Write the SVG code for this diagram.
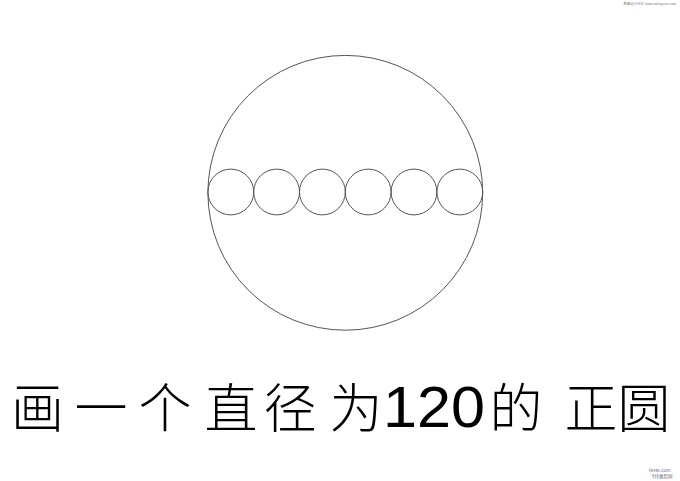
<svg xmlns="http://www.w3.org/2000/svg" width="680" height="481" viewBox="0 0 680 481">
  <style>
    .c { fill: none; stroke: #555; stroke-width: 1; }
    .cjk { font-family: "Noto Sans CJK SC", sans-serif; font-size: 53px; font-weight: 300; fill: #000; text-anchor: middle; }
    .num { font-family: "Liberation Sans", Arial, sans-serif; font-size: 58px; fill: #000; }
    .wm { font-family: "Liberation Sans", "Noto Sans CJK SC", sans-serif; fill: #777; }
  </style>
  <rect width="680" height="481" fill="#fff"/>
  <g id="big-circle">
    <circle class="c" cx="345.3" cy="192.8" r="137.4"/>
  </g>
  <g id="small-circles">
    <circle class="c" cx="230.8" cy="192" r="22.9"/>
    <circle class="c" cx="276.6" cy="192" r="22.9"/>
    <circle class="c" cx="322.4" cy="192" r="22.9"/>
    <circle class="c" cx="368.2" cy="192" r="22.9"/>
    <circle class="c" cx="414.0" cy="192" r="22.9"/>
    <circle class="c" cx="459.8" cy="192" r="22.9"/>
  </g>
  <g id="title">
    <text class="cjk" x="37.5" y="428">画</text>
    <text class="cjk" x="101" y="428">一</text>
    <text class="cjk" x="165" y="428">个</text>
    <text class="cjk" x="231" y="428">直</text>
    <text class="cjk" x="290" y="428">径</text>
    <text class="cjk" x="356" y="428">为</text>
    <text class="num" x="383" y="427" textLength="102" lengthAdjust="spacingAndGlyphs">120</text>
    <text class="cjk" x="516" y="428">的</text>
    <text class="cjk" x="591" y="428">正</text>
    <text class="cjk" x="644" y="428">圆</text>
  </g>
  <g id="watermarks">
    <text class="wm" x="676" y="5" font-size="3.5" text-anchor="end">思缘设计论坛 www.missyuan.com</text>
    <text class="wm" x="649" y="472" font-size="5" fill="#335">fevte.com</text>
    <text class="wm" x="650" y="477.5" font-size="4.5" fill="#335">飞特教程网</text>
  </g>
</svg>
